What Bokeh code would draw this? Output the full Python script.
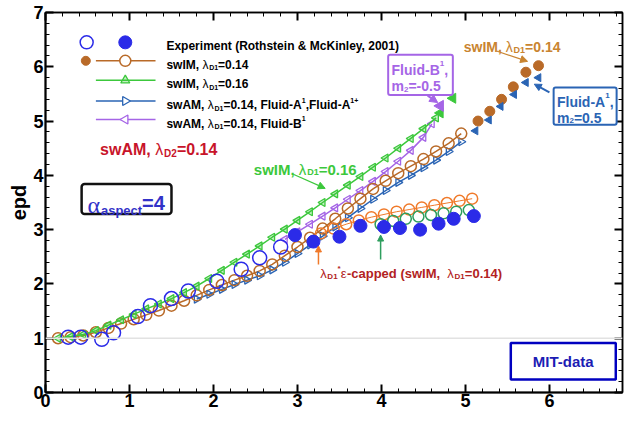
from bokeh.plotting import figure
from bokeh.models import (Range1d, LinearAxis, SingleIntervalTicker, Label, Arrow,
                          NormalHead, BoxAnnotation, Span)
from bokeh.embed import file_html
from bokeh.resources import INLINE

# ---------------- data ----------------
# swIM, lambda_D1 = 0.14 (brown, open circles)
swim14_de = [0.15, 0.3, 0.45, 0.6, 0.75, 0.9, 1.05, 1.2, 1.35, 1.5, 1.65, 1.8, 1.95, 2.1, 2.25,
             2.4, 2.55, 2.7, 2.85, 3.0, 3.15, 3.3, 3.45, 3.6, 3.75, 3.9, 4.05, 4.2, 4.35, 4.5,
             4.65, 4.8, 4.95]
swim14_epd = [1.0, 1.02, 1.05, 1.11, 1.19, 1.27, 1.35, 1.43, 1.51, 1.6, 1.69, 1.79, 1.89, 1.98, 2.07,
              2.15, 2.24, 2.36, 2.52, 2.68, 2.85, 3.02, 3.2, 3.39, 3.57, 3.75, 3.9, 4.04, 4.17, 4.3,
              4.44, 4.59, 4.77]
# swIM, lambda_D1 = 0.14 continuation (brown filled dots)
swim14_ext_de = [5.15, 5.29, 5.43, 5.57, 5.72, 5.87]
swim14_ext_epd = [5.0, 5.18, 5.4, 5.63, 5.9, 6.02]
# swIM, lambda_D1 = 0.16 (green, triangles)
swim16_de = [0.15, 0.3, 0.45, 0.6, 0.75, 0.9, 1.05, 1.2, 1.35, 1.5, 1.65, 1.8, 1.95, 2.1, 2.25,
             2.4, 2.55, 2.7, 2.85, 3.0, 3.15, 3.3, 3.45, 3.6, 3.75, 3.9, 4.05, 4.2, 4.35, 4.5, 4.65]
swim16_epd = [1.0, 1.03, 1.07, 1.14, 1.24, 1.34, 1.44, 1.54, 1.63, 1.73, 1.84, 1.96, 2.1, 2.25, 2.4,
              2.55, 2.7, 2.86, 3.01, 3.17, 3.33, 3.5, 3.66, 3.82, 3.98, 4.15, 4.32, 4.5, 4.68, 4.86, 5.06]
swim16_end_de = [4.7, 4.85]
swim16_end_epd = [5.15, 5.42]
# swAM, lambda_D1 = 0.14, Fluid-A (blue, triangles right)
flA_de = [1.8, 1.95, 2.1, 2.25, 2.4, 2.55, 2.7, 2.85, 3.0, 3.15, 3.3, 3.45, 3.6, 3.75, 3.9, 4.05,
          4.2, 4.35, 4.5, 4.65, 4.8, 4.95]
flA_epd = [1.72, 1.81, 1.9, 1.99, 2.07, 2.15, 2.26, 2.4, 2.56, 2.72, 2.88, 3.05, 3.22, 3.39, 3.56, 3.72,
           3.87, 4.0, 4.14, 4.28, 4.44, 4.62]
# Fluid-A1, m2 = 0.5 (blue filled triangles)
flA_ext_de = [5.12, 5.28, 5.42, 5.58, 5.72, 5.87]
flA_ext_epd = [4.82, 5.02, 5.27, 5.49, 5.71, 5.8]
# swAM, lambda_D1 = 0.14, Fluid-B (purple, triangles left)
flB_de = [2.85, 3.0, 3.15, 3.3, 3.45, 3.6, 3.75, 3.9, 4.05, 4.2, 4.35, 4.5, 4.6]
flB_epd = [2.82, 2.96, 3.1, 3.25, 3.4, 3.56, 3.72, 3.89, 4.07, 4.26, 4.46, 4.7, 4.95]
flB_end_de = [4.7]
flB_end_epd = [5.28]
# lambda_D1*eps capped (orange and green open circles)
cap_o_de = [3.28, 3.43, 3.58, 3.73, 3.88, 4.03, 4.18, 4.33, 4.48, 4.63, 4.78, 4.93, 5.08]
cap_o_epd = [2.93, 3.02, 3.1, 3.17, 3.23, 3.28, 3.33, 3.37, 3.41, 3.45, 3.49, 3.53, 3.57]
cap_g_de = [3.99, 4.14, 4.29, 4.44, 4.59, 4.74, 4.89, 5.04]
cap_g_epd = [3.1, 3.16, 3.2, 3.24, 3.27, 3.3, 3.33, 3.36]
# Experiment (Rothstein & McKinley, 2001)
exp_open_de = [0.27, 0.42, 0.67, 0.81, 1.1, 1.25, 1.5, 1.7, 2.04, 2.33, 2.55, 2.8]
exp_open_epd = [1.02, 1.02, 0.98, 1.1, 1.4, 1.6, 1.73, 1.87, 2.05, 2.27, 2.48, 2.68]
exp_fill_de = [2.97, 3.19, 3.5, 3.75, 4.03, 4.22, 4.46, 4.68, 4.86, 5.1]
exp_fill_epd = [2.9, 2.78, 2.87, 3.07, 3.05, 3.03, 3.0, 3.11, 3.2, 3.25]

x_ticks_interval = 1
y_ticks_interval = 1
X_MAX = 6.87
Y_MAX = 7

# ---------------- styles ----------------
BROWN = "#B96A28"
BROWN_T = "#C98430"
ORANGE = "#F07A2A"
GREEN = "#3CC83C"
GREEN_C = "#2E9E5E"
BLUE_A = "#2A64B4"
PURPLE = "#A565E6"
EXP = "#2B2BE8"
DRED = "#C8142A"
FONT = "Liberation Sans"

p = figure(width=624, height=424, x_range=Range1d(0, X_MAX), y_range=Range1d(0, Y_MAX),
           output_backend="svg", toolbar_location=None,
           min_border_left=45, min_border_right=2, min_border_top=12, min_border_bottom=32)
p.xgrid.visible = False
p.ygrid.visible = False
p.outline_line_color = "black"
p.outline_line_width = 1.5
p.background_fill_color = "white"


def style_axis(ax, label_size="18px"):
    ax.major_tick_in = 8
    ax.major_tick_out = 0
    ax.minor_tick_in = 4
    ax.minor_tick_out = 0
    ax.axis_line_width = 2
    ax.axis_line_color = "black"
    ax.major_tick_line_width = 2
    ax.minor_tick_line_width = 1
    ax.major_label_text_font = FONT
    ax.major_label_text_font_style = "bold"
    ax.major_label_text_font_size = label_size
    ax.major_label_text_color = "black"
    ax.major_label_standoff = 2
    ax.axis_label_text_font = FONT
    ax.axis_label_text_font_style = "bold"
    ax.axis_label_text_font_size = "20px"
    ax.axis_label_text_color = "black"
    ax.axis_label_standoff = 0


p.xaxis.ticker = SingleIntervalTicker(interval=x_ticks_interval, num_minor_ticks=5)
p.yaxis.ticker = SingleIntervalTicker(interval=y_ticks_interval, num_minor_ticks=5)
p.yaxis.axis_label = "epd"
style_axis(p.xaxis[0])
style_axis(p.yaxis[0])
p.xaxis.major_label_standoff = 1

top = LinearAxis(ticker=SingleIntervalTicker(interval=x_ticks_interval, num_minor_ticks=5))
right = LinearAxis(ticker=SingleIntervalTicker(interval=y_ticks_interval, num_minor_ticks=5))
for ax in (top, right):
    style_axis(ax, label_size="0px")
    ax.major_label_text_color = None
    ax.major_label_standoff = 0
    ax.axis_line_width = 1.5
p.add_layout(top, "above")
p.add_layout(right, "right")

# x-axis title drawn as a label so that it can sit lower, as in the original
p.add_layout(Label(x=X_MAX / 2, y=0, y_offset=-21, text="De", text_font=FONT, text_font_size="19px",
                   text_font_style="bold", text_color="black", text_align="center",
                   text_baseline="middle"))

p.add_layout(Span(location=1, dimension="width", line_color="#e2e2e2", line_width=1.5))

# ---------------- series ----------------
p.line(swim14_de, swim14_epd, line_color=BROWN, line_width=1.5)
p.line(flA_de, flA_epd, line_color=BLUE_A, line_width=1.5)
p.scatter(flA_de, flA_epd, marker="triangle", angle=-1.5708, size=8, fill_color=None,
          line_color=BLUE_A, line_width=1.3)
p.line(flB_de, flB_epd, line_color=PURPLE, line_width=1.5)
p.scatter(flB_de, flB_epd, marker="triangle", angle=1.5708, size=8, fill_color=None,
          line_color=PURPLE, line_width=1.3)
p.scatter(swim14_de, swim14_epd, marker="circle", size=11, fill_color=None,
          line_color=BROWN, line_width=1.5)
p.line(swim16_de, swim16_epd, line_color=GREEN, line_width=1.5)
p.scatter(swim16_de, swim16_epd, marker="triangle", angle=1.5708, size=8, fill_color=GREEN,
          fill_alpha=0.3, line_color=GREEN, line_width=1.3)
p.scatter(swim16_end_de, swim16_end_epd, marker="triangle", angle=1.5708, size=10,
          fill_color=GREEN, line_color=GREEN)
p.scatter(flB_end_de, flB_end_epd, marker="triangle", angle=1.5708, size=11,
          fill_color=PURPLE, line_color=PURPLE)
p.scatter(cap_o_de, cap_o_epd, marker="circle", size=11, fill_color=None,
          line_color=ORANGE, line_width=1.5)
p.line(cap_o_de, cap_o_epd, line_color=ORANGE, line_width=1)
p.scatter(cap_g_de, cap_g_epd, marker="circle", size=11, fill_color=None,
          line_color=GREEN_C, line_width=1.5)
p.scatter(swim14_ext_de, swim14_ext_epd, marker="circle", size=10, fill_color=BROWN,
          line_color=BROWN)
p.scatter(flA_ext_de, flA_ext_epd, marker="triangle", angle=1.5708, size=8, fill_color=BLUE_A,
          line_color=BLUE_A)
p.scatter(exp_open_de, exp_open_epd, marker="circle", size=14, fill_color=None,
          line_color=EXP, line_width=1.5)
p.scatter(exp_fill_de, exp_fill_epd, marker="circle", size=13, fill_color=EXP,
          line_color=EXP)

# ---------------- rich text helper ----------------
W = {' ': 278, ',': 278, '.': 278, '=': 584, '-': 333, '(': 333, ')': 333, '&': 722, '*': 389,
     '+': 584, 'a': 556, 'b': 611, 'c': 556, 'd': 611, 'e': 556, 'f': 333, 'g': 611, 'h': 611,
     'i': 278, 'k': 556, 'l': 278, 'm': 889, 'n': 611, 'o': 611, 'p': 611, 'r': 389, 's': 556,
     't': 333, 'u': 611, 'w': 778, 'x': 556, 'y': 556, 'A': 722, 'B': 722, 'D': 722, 'E': 667,
     'F': 611, 'I': 278, 'K': 722, 'M': 833, 'R': 722, 'T': 611, 'λ': 556, 'ε': 480, 'α': 560}


def tw(s, size):
    return sum(W.get(c, 556) for c in s) * size / 1000.0


def rich(x, y, segs, color):
    off = 0.0
    for seg in segs:
        text, size, dy = seg[0], seg[1], seg[2]
        style = seg[3] if len(seg) > 3 else "bold"
        fnt = seg[4] if len(seg) > 4 else FONT
        p.add_layout(Label(x=x, y=y, x_offset=off, y_offset=dy, text=text, text_font=fnt,
                           text_font_size=f"{size}px", text_font_style=style, text_color=color,
                           text_baseline="alphabetic", text_align="left"))
        off += tw(text, size)


def lam(size, sub, after):
    return [("λ", size, 0, "normal"), (sub, round(size * 0.62), -3)] + after


def box(l, r, t, b, color, width=2, fill=None, radius=0):
    p.add_layout(BoxAnnotation(left=l, right=r, top=t, bottom=b, fill_color=fill,
                               fill_alpha=1 if fill else 0, line_color=color, line_alpha=1,
                               line_width=width, border_radius=radius))


def arrow(x0, y0, x1, y1, color, width=1.2, head=7):
    p.add_layout(Arrow(x_start=x0, y_start=y0, x_end=x1, y_end=y1, line_color=color, line_width=width,
                       end=NormalHead(size=head, fill_color=color, line_color=color)))


# ---------------- legend (drawn) ----------------
LS = 12
rows = [6.45, 6.11, 5.75, 5.37, 5.03]
tx = 1.44
p.scatter([0.49], [rows[0]], marker="circle", size=13, fill_color=None, line_color=EXP, line_width=1.5)
p.scatter([0.95], [rows[0]], marker="circle", size=13, fill_color=EXP, line_color=EXP)
rich(tx, rows[0] - 0.075, [("Experiment (Rothstein & McKinley, 2001)", LS, 0)], "black")

p.scatter([0.48], [rows[1]], marker="circle", size=9, fill_color=BROWN, line_color=BROWN)
p.line([0.6, 1.31], [rows[1], rows[1]], line_color=BROWN, line_width=1.5)
p.scatter([0.95], [rows[1]], marker="circle", size=11, fill_color="white", line_color=BROWN, line_width=1.5)
rich(tx, rows[1] - 0.075, [("swIM, ", LS, 0)] + lam(LS, "D1", [("=0.14", LS, 0)]), "black")

p.line([0.6, 1.31], [rows[2], rows[2]], line_color=GREEN, line_width=1.5)
p.scatter([0.95], [rows[2]], marker="triangle", size=9, fill_color=GREEN, fill_alpha=0.3,
          line_color=GREEN, line_width=1.3)
rich(tx, rows[2] - 0.075, [("swIM, ", LS, 0)] + lam(LS, "D1", [("=0.16", LS, 0)]), "black")

p.line([0.6, 1.31], [rows[3], rows[3]], line_color=BLUE_A, line_width=1.5)
p.scatter([0.95], [rows[3]], marker="triangle", angle=-1.5708, size=9, fill_color="white",
          line_color=BLUE_A, line_width=1.3)
rich(tx, rows[3] - 0.075, [("swAM, ", LS, 0)] + lam(LS, "D1", [("=0.14, Fluid-A", LS, 0), ("1", 7, 5),
                                                                 (",Fluid-A", LS, 0), ("1+", 7, 5)]), "black")

p.line([0.6, 1.31], [rows[4], rows[4]], line_color=PURPLE, line_width=1.5)
p.scatter([0.95], [rows[4]], marker="triangle", angle=1.5708, size=9, fill_color="white",
          line_color=PURPLE, line_width=1.3)
rich(tx, rows[4] - 0.075, [("swAM, ", LS, 0)] + lam(LS, "D1", [("=0.14, Fluid-B", LS, 0), ("1", 7, 5)]), "black")

rich(0.65, 4.47, [("swAM, ", 16, 0), ("λ", 16, 0, "normal"), ("D2", 10, -4), ("=0.14", 16, 0)], DRED)

# ---------------- annotations ----------------
rich(4.98, 6.36, [("swIM, ", 14, 0), ("λ", 14, 0, "normal"), ("D1", 9, -3), ("=0.14", 14, 0)], BROWN_T)
arrow(5.37, 6.29, 5.74, 6.1, BROWN_T)

rich(2.48, 4.11, [("swIM, ", 15, 0), ("λ", 15, 0, "normal"), ("D1", 9, -3), ("=0.16", 15, 0)], GREEN)
arrow(2.95, 4.02, 3.33, 3.76, GREEN)

box(4.08, 4.85, 6.22, 5.48, PURPLE, width=2, fill="white", radius=2)
rich(4.12, 5.95, [("Fluid-B", 14, 0), ("1", 8, 6), (",", 14, 0)], PURPLE)
rich(4.12, 5.64, [("m", 14, 0), ("2", 8, -3), ("=-0.5", 14, 0)], PURPLE)
arrow(4.55, 5.47, 4.67, 5.34, PURPLE, width=2, head=8)

box(6.05, 6.8, 5.62, 4.93, BLUE_A, width=2, fill="white", radius=2)
rich(6.09, 5.36, [("Fluid-A", 14, 0), ("1", 8, 6), (",", 14, 0)], BLUE_A)
rich(6.09, 5.06, [("m", 14, 0), ("2", 8, -3), ("=0.5", 14, 0)], BLUE_A)
arrow(6.0, 5.53, 5.82, 5.68, BLUE_A, width=2)

box(0.43, 1.5, 3.84, 3.29, "#111111", width=2.5, fill="white", radius=3)
rich(0.5, 3.45, [("α", 24, 0, "normal", "Liberation Serif"), ("aspect", 13, -5), ("=4", 20, 2)], "#3232C8")

rich(3.27, 2.2, [("λ", 13, 0, "normal"), ("D1", 8, -3), ("*", 8, 5), ("ε", 13, 0, "normal"),
                 (" -capped (swIM, ", 13, 0), ("λ", 13, 0, "normal"), ("D1", 8, -3), ("=0.14)", 13, 0)],
     "#B22222")
arrow(3.25, 2.36, 3.25, 2.7, ORANGE, width=1.5, head=6)
arrow(3.99, 2.45, 3.99, 2.9, GREEN_C, width=1.5, head=6)

box(5.54, 6.79, 0.91, 0.24, "#0000C0", width=2.5, fill="white")
p.add_layout(Label(x=6.165, y=0.575, text="MIT-data", text_font=FONT, text_font_size="15px",
                   text_font_style="bold", text_color="#1C1CB4", text_align="center",
                   text_baseline="middle"))

open("out.html", "w").write(file_html(p, INLINE))
